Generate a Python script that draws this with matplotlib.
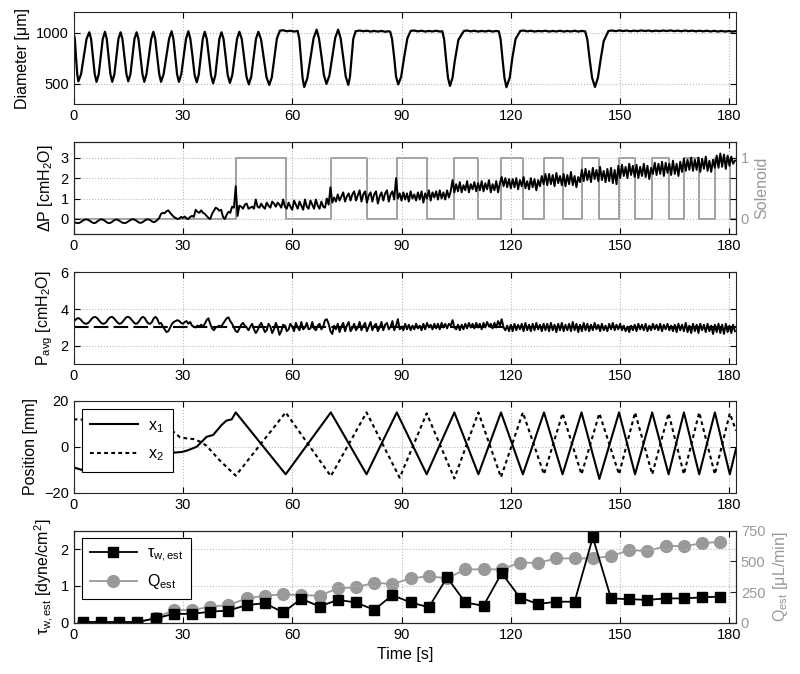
import numpy as np
import matplotlib.pyplot as plt

plt.rcParams['font.family'] = ['Liberation Sans', 'DejaVu Sans']
plt.rcParams['mathtext.fontset'] = 'custom'
plt.rcParams['mathtext.rm'] = 'Liberation Sans'
plt.rcParams['mathtext.it'] = 'Liberation Sans:italic'
plt.rcParams['font.size'] = 10.5
plt.rcParams['axes.labelsize'] = 11.5

GRAY = '0.6'
T_MAX = 181.8
x_ticks = [0, 30, 60, 90, 120, 150, 180]

# --- vessel diameter [um], (time, value)
diam_pts = [
    (0.0, 995), (0.35, 940), (0.65, 765), (1.0, 595), (1.3, 525),
    (2.05, 595), (2.8, 765), (3.55, 940), (4.3, 1005),
    (4.8, 940), (5.3, 765), (5.8, 595), (6.3, 520),
    (6.9, 595), (7.45, 765), (8.0, 940), (8.6, 1010),
    (9.1, 940), (9.6, 765), (10.1, 595), (10.6, 520),
    (11.2, 595), (11.75, 765), (12.3, 940), (12.9, 1005),
    (13.4, 940), (13.95, 765), (14.5, 595), (15.0, 525),
    (15.6, 595), (16.15, 765), (16.7, 940), (17.3, 1005),
    (17.8, 940), (18.35, 765), (18.9, 595), (19.4, 520),
    (20.0, 595), (20.65, 765), (21.3, 940), (21.9, 1010),
    (22.4, 940), (22.95, 765), (23.5, 595), (24.0, 520),
    (24.7, 595), (25.45, 765), (26.2, 940), (26.9, 1015),
    (27.4, 940), (27.9, 765), (28.4, 595), (28.9, 520),
    (29.55, 595), (30.2, 765), (30.85, 940), (31.5, 1015),
    (32.05, 940), (32.65, 765), (33.2, 590), (33.8, 515),
    (34.35, 590), (34.9, 765), (35.45, 940), (36.0, 1010),
    (36.55, 940), (37.15, 760), (37.7, 585), (38.3, 505),
    (38.9, 585), (39.45, 760), (40.0, 940), (40.6, 1005),
    (41.15, 940), (41.75, 760), (42.3, 585), (42.9, 510),
    (43.55, 585), (44.2, 760), (44.85, 940), (45.5, 1010),
    (46.15, 940), (46.8, 755), (47.45, 570), (48.1, 495),
    (48.75, 570), (49.4, 755), (50.05, 940), (50.7, 1010),
    (51.45, 935), (52.2, 750), (52.95, 565), (53.7, 490),
    (54.4, 565), (55.1, 755), (55.8, 945), (56.6, 1020),
    (57.5, 1025), (58.5, 1015), (59.5, 1020), (60.5, 1012), (61.5, 1018),
    (61.95, 940), (62.4, 745), (62.85, 555), (63.3, 470),
    (64.15, 555), (65.0, 750), (65.85, 945), (66.7, 1030),
    (67.35, 945), (68.05, 765), (68.7, 585), (69.4, 500),
    (70.2, 580), (71.0, 765), (71.8, 950), (72.6, 1030),
    (73.3, 945), (74.0, 760), (74.7, 570), (75.4, 490),
    (75.85, 570), (76.3, 755), (76.75, 940), (77.4, 1015),
    (78.5, 1022), (79.5, 1015), (80.5, 1020), (81.5, 1012), (82.5, 1018),
    (83.5, 1012), (84.5, 1018), (85.5, 1010), (86.5, 1015), (86.9, 1010),
    (87.4, 940), (88.0, 755), (88.5, 570), (89.1, 495),
    (89.9, 570), (90.7, 755), (91.6, 945), (92.5, 1018),
    (93.5, 1022), (94.5, 1014), (95.5, 1020), (96.5, 1012), (97.5, 1018),
    (98.5, 1013), (99.5, 1020), (100.5, 1012), (101.2, 1015),
    (101.7, 935), (102.2, 750), (102.75, 560), (103.3, 480),
    (104.0, 560), (104.6, 720), (105.6, 930), (107.1, 1018),
    (108.0, 1022), (109.0, 1014), (110.0, 1020), (111.0, 1012), (112.0, 1018),
    (113.0, 1013), (114.0, 1020), (115.0, 1012), (116.0, 1018), (116.7, 1014),
    (117.2, 935), (117.7, 750), (118.25, 560), (118.8, 468),
    (119.7, 560), (120.4, 750), (121.3, 940), (122.6, 1018),
    (123.5, 1022), (124.5, 1014), (125.5, 1020), (126.5, 1012), (127.5, 1018),
    (128.5, 1014), (129.5, 1020), (130.5, 1012), (131.5, 1018), (132.5, 1013),
    (133.5, 1020), (134.5, 1012), (135.5, 1018), (136.5, 1013), (137.5, 1020),
    (138.5, 1012), (139.5, 1018), (140.4, 1014),
    (141.0, 935), (141.6, 750), (142.3, 560), (143.1, 470),
    (143.9, 560), (144.7, 750), (145.5, 920), (146.8, 1018),
    (147.8, 1022), (148.8, 1016), (149.8, 1023), (150.8, 1017), (151.8, 1022),
    (152.8, 1015), (153.8, 1021), (154.8, 1016), (155.8, 1023), (156.8, 1017),
    (157.8, 1022), (158.8, 1015), (159.8, 1021), (160.8, 1016), (161.8, 1022),
    (162.8, 1017), (163.8, 1023), (164.8, 1016), (165.8, 1021), (166.8, 1015),
    (167.8, 1022), (168.8, 1016), (169.8, 1021), (170.8, 1014), (171.8, 1020),
    (172.8, 1014), (173.8, 1020), (174.8, 1013), (175.8, 1019), (176.8, 1012),
    (177.8, 1018), (178.8, 1012), (179.8, 1017), (180.8, 1011), (181.8, 1016),
]

# --- pressure drop [cmH2O], sampled every 0.5 s
dp_vals = [
    -0.15, -0.18, -0.2, -0.2, -0.15, -0.08, -0.04, -0.02, -0.04, -0.1, -0.16, -0.2, -0.19, -0.12, -0.06, -0.02, -0.03, -0.08, -0.15, -0.2,
    -0.2, -0.15, -0.08, -0.03, -0.03, -0.08, -0.14, -0.19, -0.2, -0.18, -0.12, -0.06, -0.02, -0.02, -0.06, -0.12, -0.18, -0.19, -0.15, -0.08,
    -0.03, -0.02, -0.05, -0.12, -0.16, -0.12, -0.05, 0.05, 0.25, 0.3, 0.28, 0.38, 0.42, 0.3, 0.2, 0.1, 0.05, 0.0, 0.02, 0.1,
    0.05, 0.12, 0.02, 0.0, 0.1, 0.15, 0.1, 0.45, 0.35, 0.3, 0.42, 0.3, 0.25, 0.15, 0.05, 0.0, 0.25, 0.4, 0.55, 0.5,
    0.4, 0.45, 0.1, 0.0, 0.2, 0.35, 0.3, 0.6, 0.55, 1.6, 0.15, 0.65, 0.6, 0.5, 0.7, 0.75, 0.5, 0.55, 0.6, 0.5,
    0.95, 0.6, 0.55, 0.75, 0.6, 0.5, 0.8, 0.65, 0.55, 0.85, 0.75, 0.6, 0.8, 0.7, 0.55, 0.95, 0.6, 0.5, 0.8, 0.6,
    0.45, 0.9, 0.7, 0.5, 0.85, 0.65, 0.45, 0.95, 0.6, 0.5, 0.9, 0.7, 0.5, 0.95, 0.65, 0.5, 0.85, 0.6, 0.55, 1.0,
    0.7, 1.55, 0.8, 1.05, 0.85, 1.2, 0.9, 1.1, 1.3, 0.85, 1.1, 1.25, 0.9, 1.2, 1.35, 0.9, 1.15, 1.4, 0.85, 1.2,
    1.35, 0.8, 1.15, 1.3, 0.85, 1.2, 1.35, 0.75, 1.1, 1.3, 0.9, 1.25, 1.4, 0.85, 1.2, 1.35, 0.95, 2.0, 1.0, 1.25,
    0.9, 1.3, 0.95, 1.25, 0.85, 1.35, 1.0, 1.2, 0.9, 1.3, 0.95, 1.35, 0.8, 1.25, 1.0, 1.4, 0.9, 1.3, 1.05, 1.35,
    0.95, 1.4, 1.0, 1.3, 0.95, 1.4, 1.05, 1.35, 1.9, 1.3, 1.7, 1.35, 1.8, 1.3, 1.65, 1.4, 1.85, 1.3, 1.7, 1.45,
    1.8, 1.35, 1.75, 1.4, 1.85, 1.35, 1.75, 1.45, 1.9, 1.3, 1.7, 1.4, 1.85, 1.3, 1.75, 2.05, 1.6, 2.0, 1.55, 1.95,
    1.5, 1.95, 1.55, 2.0, 1.45, 1.9, 1.6, 2.05, 1.5, 1.85, 1.45, 2.0, 1.55, 1.95, 1.4, 1.9, 1.6, 2.1, 1.7, 2.2,
    1.65, 2.2, 1.7, 2.15, 1.6, 2.25, 1.75, 2.1, 1.65, 2.2, 1.6, 2.15, 1.7, 2.3, 1.65, 2.1, 1.55, 2.05, 1.8, 2.4,
    1.85, 2.45, 1.9, 2.35, 1.8, 2.5, 1.95, 2.4, 1.85, 2.55, 1.9, 2.35, 1.8, 2.45, 1.85, 2.5, 1.75, 2.4, 1.7, 2.6,
    2.0, 2.65, 2.1, 2.55, 2.0, 2.7, 2.15, 2.6, 2.05, 2.65, 2.0, 2.55, 2.1, 2.7, 2.05, 2.6, 1.95, 2.5, 2.2, 2.75,
    2.15, 2.7, 2.2, 2.8, 2.1, 2.75, 2.25, 2.7, 2.15, 2.85, 2.2, 2.7, 2.1, 2.8, 2.3, 2.95, 2.35, 2.9, 2.4, 3.0,
    2.35, 2.9, 2.4, 3.0, 2.3, 2.95, 2.45, 3.05, 2.35, 2.85, 2.3, 2.9, 2.5, 3.1, 2.5, 3.2, 2.55, 3.15, 2.45, 3.1,
    2.6, 3.05, 2.7, 2.85,
]

# --- solenoid state: switching times and state after each switch
sol_t = [0, 44.5, 58.2, 70.6, 80.4, 88.7, 96.9, 104.5, 111.1, 117.3, 123.3, 129.1,
         134.2, 139.4, 144.3, 149.7, 154.1, 158.8, 163.3, 167.5, 171.7, 176.0, 180.1, 181.8]
sol_v = [0, 1, 0, 1, 0, 1, 0, 1, 0, 1, 0, 1, 0, 1, 0, 1, 0, 1, 0, 1, 0, 1, 0, 0]

# --- average pressure [cmH2O], sampled every 0.5 s
pavg_ref = 3.0
pavg_vals = [
    3.3, 3.42, 3.5, 3.5, 3.42, 3.3, 3.22, 3.2, 3.25, 3.35, 3.48, 3.56, 3.57, 3.5, 3.38, 3.26, 3.2, 3.22, 3.3, 3.45,
    3.55, 3.58, 3.52, 3.4, 3.28, 3.2, 3.22, 3.32, 3.45, 3.56, 3.58, 3.52, 3.4, 3.28, 3.2, 3.22, 3.35, 3.5, 3.58, 3.52,
    3.35, 3.22, 3.2, 3.3, 3.5, 3.58, 3.45, 3.2, 3.25, 3.05, 2.9, 2.75, 2.8, 3.0, 3.2, 3.3, 3.35, 3.4, 3.35, 3.25,
    3.2, 3.3, 3.35, 3.2, 3.3, 3.1, 3.05, 3.0, 3.1, 3.05, 3.15, 3.05, 3.2, 3.4, 3.5, 3.2, 2.95, 2.85, 3.0, 3.05,
    3.1, 3.05, 3.2, 3.35, 3.5, 3.55, 3.35, 3.2, 3.0, 2.8, 2.75, 2.95, 3.15, 3.25, 3.1, 3.0, 2.85, 3.05, 3.2, 2.9,
    2.7, 2.85, 3.1, 3.25, 3.0, 2.75, 2.85, 3.2, 3.05, 2.7, 2.9, 3.25, 3.0, 2.6, 2.8, 3.15, 3.1, 2.8, 2.9, 3.2,
    3.05, 2.8, 3.25, 3.0, 2.85, 3.3, 2.9, 3.0, 3.25, 2.9, 2.95, 3.3, 2.95, 2.85, 3.1, 3.2, 2.9, 3.05, 3.4, 3.45,
    3.2, 2.8, 2.65, 3.1, 2.9, 3.2, 2.75, 3.05, 3.25, 2.8, 3.1, 3.3, 2.8, 2.95, 3.2, 2.85, 3.0, 3.3, 2.85, 3.1,
    3.25, 2.8, 3.05, 3.3, 2.85, 3.1, 3.2, 2.8, 3.0, 3.3, 2.85, 3.15, 3.25, 2.9, 3.05, 3.35, 2.85, 3.1, 3.45, 2.9,
    3.05, 2.85, 3.2, 2.9, 3.15, 2.85, 3.1, 2.9, 3.2, 2.95, 3.1, 2.85, 3.2, 2.9, 3.25, 3.0, 3.15, 2.9, 3.2, 2.95,
    3.2, 2.9, 3.25, 3.0, 3.2, 2.95, 3.2, 3.1, 3.4, 3.0, 2.9, 3.15, 2.85, 3.15, 2.9, 3.2, 2.95, 3.25, 3.0, 3.2,
    2.95, 3.25, 3.0, 3.2, 2.9, 3.25, 3.0, 3.3, 3.05, 3.2, 2.95, 3.25, 3.0, 3.35, 3.1, 3.45, 3.0, 2.85, 3.1, 2.8,
    3.15, 2.8, 3.2, 2.85, 3.15, 2.9, 3.2, 2.8, 3.25, 2.85, 3.15, 2.8, 3.2, 2.85, 3.25, 2.9, 3.15, 2.8, 3.2, 2.85,
    3.2, 2.8, 3.25, 2.85, 3.15, 2.75, 3.2, 2.85, 3.25, 2.8, 3.15, 2.85, 3.2, 2.8, 3.3, 2.85, 3.2, 2.75, 3.15, 2.8,
    3.25, 2.85, 3.2, 2.8, 3.15, 2.85, 3.25, 2.9, 3.15, 2.8, 3.2, 2.85, 3.1, 2.8, 3.2, 2.9, 3.25, 2.85, 3.15, 2.9,
    3.2, 2.85, 3.1, 2.8, 3.05, 2.75, 3.1, 2.85, 3.15, 2.8, 3.2, 2.9, 3.15, 2.85, 3.2, 2.8, 3.1, 2.85, 3.2, 2.9,
    3.15, 2.85, 3.2, 2.8, 3.15, 2.9, 3.2, 2.85, 3.1, 2.8, 3.15, 2.75, 3.2, 2.85, 3.15, 2.8, 3.25, 2.75, 3.1, 2.7,
    3.2, 2.8, 3.15, 2.7, 3.2, 2.85, 3.15, 2.75, 3.2, 2.8, 3.1, 2.65, 3.15, 2.75, 3.2, 2.7, 3.15, 2.65, 3.2, 2.75,
    3.1, 2.7, 3.15, 2.8,
]

# --- piston positions [mm], (time, value)
x1_pts = [(0, -9.0), (2.3, -10.1), (8, -9.5), (15, -8.5), (20, -7.5), (25.7, -5.8),
          (27.4, -2.6), (29.7, -2.3), (31.1, -1.7), (32.9, -0.6), (33.8, 0.0), (35.2, 2.2),
          (36.5, 4.3), (38.3, 5.1), (40.6, 9.4), (41.9, 11.3), (43.4, 11.9), (44.5, 14.9),
          (58.2, -12.0), (70.6, 14.9), (80.4, -12.0), (88.7, 14.9), (96.9, -12.0),
          (104.5, 14.9), (111.1, -12.0), (117.3, 14.9), (123.3, -12.0), (129.1, 14.9),
          (134.2, -12.0), (139.4, 14.9), (144.3, -14.0), (149.7, 14.9), (154.1, -12.0),
          (158.8, 14.9), (163.3, -12.0), (167.5, 14.9), (171.7, -12.0), (176.0, 14.9),
          (180.1, -12.0), (181.8, -1.0)]
x2_pts = [(0, 11.9), (2.3, 11.8), (10, 11.0), (20, 9.5), (25.7, 8.0), (27.4, 6.5),
          (29.2, 4.1), (31.1, 3.6), (32.9, 3.3), (34.7, 2.2), (36.5, 0.4), (40.0, -5.8),
          (44.5, -12.6), (58.2, 14.9), (70.6, -12.8), (80.4, 14.9), (89.5, -13.5),
          (96.9, 14.5), (104.5, -13.8), (111.1, 14.9), (117.3, -13.3), (123.3, 14.9),
          (129.1, -12.0), (134.2, 14.5), (139.4, -12.0), (144.3, 14.5), (149.7, -12.0),
          (154.1, 14.9), (158.8, -12.0), (163.3, 14.5), (167.5, -12.0), (171.7, 14.9),
          (176.0, -12.0), (180.1, 14.5), (181.8, 7.0)]

# --- estimated wall shear stress [dyne/cm2] and flow [uL/min], one per 5 s window
est_t = [2.5, 7.5, 12.5, 17.5, 22.5, 27.5, 32.5, 37.5, 42.5, 47.5, 52.5, 57.5,
         62.5, 67.5, 72.5, 77.5, 82.5, 87.5, 92.5, 97.5, 102.5, 107.5, 112.5, 117.5,
         122.5, 127.5, 132.5, 137.5, 142.5, 147.5, 152.5, 157.5, 162.5, 167.5, 172.5, 177.5]
tau_est = [0.02, 0.02, 0.02, 0.02, 0.12, 0.24, 0.24, 0.30, 0.33, 0.48, 0.53, 0.28,
           0.65, 0.44, 0.62, 0.55, 0.35, 0.75, 0.55, 0.42, 1.23, 0.55, 0.46, 1.35,
           0.68, 0.51, 0.57, 0.57, 2.32, 0.66, 0.64, 0.62, 0.66, 0.66, 0.69, 0.71]
q_est = [0, 0, 0, 0, 40, 103, 103, 130, 144, 198, 220, 231,
         225, 220, 280, 288, 326, 315, 361, 380, 361, 435, 435, 435,
         489, 489, 524, 524, 524, 543, 592, 584, 625, 625, 647, 660]


fig = plt.figure(figsize=(8, 6.74), dpi=100)
left, width, height = 0.092, 0.828, 0.1365
bottoms = [0.8452, 0.6524, 0.4595, 0.2690, 0.0761]
axs = [fig.add_axes([left, b, width, height]) for b in bottoms]


def style(ax, mirror=True):
    ax.set_xlim(0, T_MAX)
    ax.set_xticks(x_ticks)
    ax.tick_params(direction='in', length=4, top=True, right=mirror, labelsize=10.5)
    ax.grid(True, linestyle=':', color='0.72', linewidth=0.8)
    for s in ax.spines.values():
        s.set_linewidth(0.8)
        s.set_color('0.15')


def style_twin(ax, ax2):
    ax.set_zorder(ax2.get_zorder() + 1)
    ax.patch.set_visible(False)
    ax2.tick_params(direction='in', length=4, labelsize=10.5, labelcolor=GRAY, color='0.15')


# panel 1: diameter
ax = axs[0]
t, v = zip(*diam_pts)
ax.plot(t, v, color='k', lw=1.6)
ax.set_ylim(300, 1200)
ax.set_yticks([500, 1000])
ax.set_ylabel('Diameter [μm]')
style(ax)

# panel 2: pressure drop + solenoid
ax = axs[1]
ax2 = ax.twinx()
ax2.step(sol_t, sol_v, where='post', color=GRAY, lw=1.3)
ax2.set_ylim(-0.25, 1.25)
ax2.set_yticks([0, 1])
ax2.set_ylabel('Solenoid', color=GRAY)
dp_t = 0.5 * np.arange(len(dp_vals))
ax.plot(dp_t, dp_vals, color='k', lw=1.4)
ax.set_ylim(-0.75, 3.75)
ax.set_yticks([0, 1, 2, 3])
ax.set_ylabel('ΔP [cmH$_2$O]')
style(ax)
style_twin(ax, ax2)

# panel 3: average pressure
ax = axs[2]
pavg_t = 0.5 * np.arange(len(pavg_vals))
ax.axhline(pavg_ref, color='k', lw=1.5, dashes=(7, 2.5))
ax.plot(pavg_t, pavg_vals, color='k', lw=1.4)
ax.set_ylim(1, 6)
ax.set_yticks([2, 4, 6])
ax.set_ylabel('P$_{\\mathrm{avg}}$ [cmH$_2$O]')
style(ax)

# panel 4: positions
ax = axs[3]
t1, v1 = zip(*x1_pts)
t2, v2 = zip(*x2_pts)
ax.plot(t1, v1, color='k', lw=1.5, label='x$_1$')
ax.plot(t2, v2, color='k', lw=1.5, dashes=(1.8, 1.6), label='x$_2$')
ax.set_ylim(-20, 20)
ax.set_yticks([-20, 0, 20])
ax.set_ylabel('Position [mm]')
style(ax)
leg = ax.legend(loc='upper left', bbox_to_anchor=(0.012, 0.907), borderaxespad=0,
                fontsize=11.5, handlelength=3.0, handletextpad=0.6, labelspacing=0.75,
                fancybox=False, framealpha=1, edgecolor='k', borderpad=0.55)
leg.get_frame().set_linewidth(0.8)

# panel 5: shear stress + flow estimates
ax = axs[4]
ax2 = ax.twinx()
lq, = ax2.plot(est_t, q_est, color=GRAY, lw=1.3, marker='o', ms=8.5,
               mfc=GRAY, mec=GRAY, label='Q$_{\\mathrm{est}}$')
ax2.set_ylim(0, 750)
ax2.set_yticks([0, 250, 500, 750])
ax2.set_ylabel('Q$_{\\mathrm{est}}$ [μL/min]', color=GRAY)
lt, = ax.plot(est_t, tau_est, color='k', lw=1.3, marker='s', ms=7,
              mfc='k', mec='k', label='τ$_{\\mathrm{w,est}}$')
ax.set_ylim(0, 2.5)
ax.set_yticks([0, 1, 2])
ax.set_ylabel('τ$_{\\mathrm{w,est}}$ [dyne/cm$^2$]')
ax.set_xlabel('Time [s]')
style(ax, mirror=False)
style_twin(ax, ax2)
leg = ax.legend(handles=[lt, lq], loc='upper left', bbox_to_anchor=(0.012, 0.92),
                borderaxespad=0, fontsize=11.5, handlelength=3.0, handletextpad=0.6,
                labelspacing=0.5, fancybox=False, framealpha=1, edgecolor='k',
                borderpad=0.5, numpoints=1)
leg.get_frame().set_linewidth(0.8)

fig.savefig('out.png', dpi=100)
